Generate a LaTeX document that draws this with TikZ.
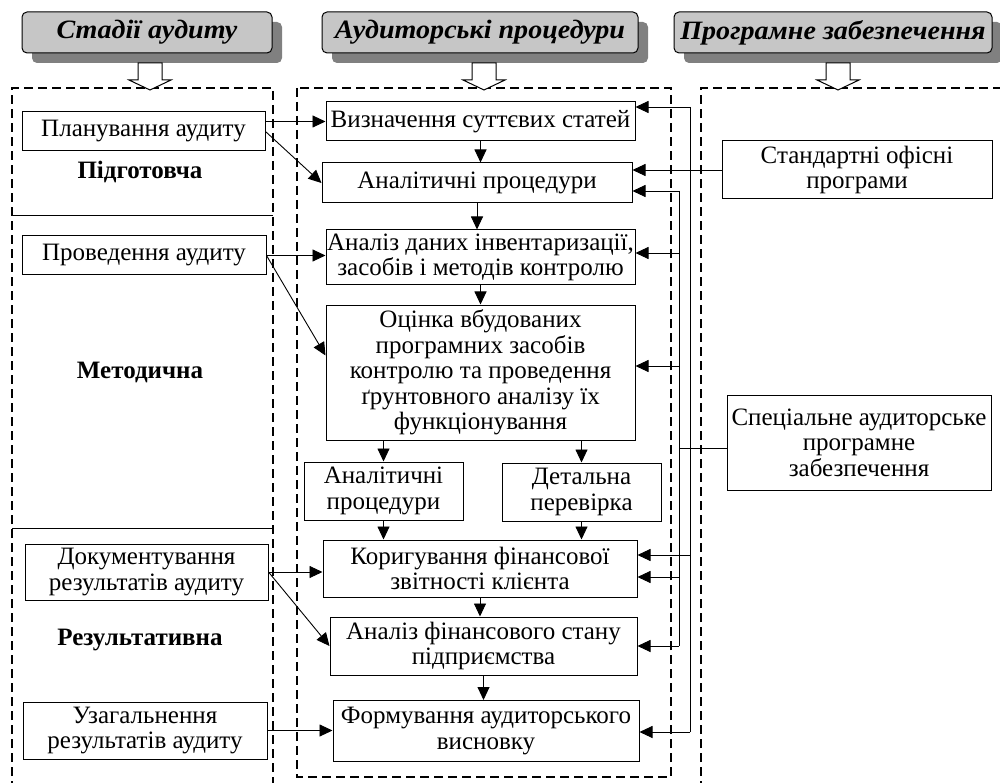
\documentclass[tikz,border=0pt]{standalone}
\usepackage{fontspec}
\setmainfont{Liberation Serif}
\newfontfamily\headfont{Liberation Serif}[FakeStretch=1.06]
\usetikzlibrary{arrows.meta,shadows}

\begin{document}
\begin{tikzpicture}[x=1pt,y=-1pt,
        font=\fontsize{25}{25.5}\selectfont,
        box/.style={draw,line width=1pt,fill=white,align=center,inner sep=0pt},
        head/.style={draw,line width=1pt,rounded corners=5pt,fill=gray!45,minimum height=41pt,inner sep=2pt,
            font=\headfont\fontsize{26.5}{30}\selectfont\bfseries\itshape,
            drop shadow={shadow xshift=10pt,shadow yshift=-10pt,fill=gray,opacity=1}},
        stage/.style={font=\fontsize{25}{25.5}\selectfont\bfseries},
        column/.style={line width=1.5pt,dash pattern=on 9pt off 5pt},
        arr/.style={line width=0.9pt,-{Triangle[length=13pt,width=12pt]}},
        bus/.style={line width=0.9pt},
        blockarrow/.style={draw,line width=1pt,fill=white}]
    \useasboundingbox (0,0) rectangle (1000,783);

    % columns
    \draw[column] (12,790) -- (12,88) -- (273,88) -- (273,790);
    \draw[column] (297,88) rectangle (671,777);
    \draw[column] (701,790) -- (701,88) -- (1010,88);
    \draw[line width=1pt] (12,216) -- (273,216);
    \draw[line width=1pt] (12,528) -- (273,528);

    % headers
    \node[head,minimum width=250pt] (stadii) at (147,32.5) {Стадії аудиту};
    \node[head,minimum width=316pt] (proc) at (480,32.5) {Аудиторські процедури};
    \node[head,minimum width=318pt] (soft) at (833,32.5) {Програмне забезпечення};

    \draw[blockarrow] (138,63) -- (162,63) -- (162,80) -- (171,80) -- (150,90) -- (129,80) -- (138,80) -- cycle;
    \draw[blockarrow] (472,63) -- (496,63) -- (496,80) -- (505,80) -- (484,90) -- (463,80) -- (472,80) -- cycle;
    \draw[blockarrow] (826,63) -- (850,63) -- (850,80) -- (859,80) -- (838,90) -- (817,80) -- (826,80) -- cycle;

    % stages
    \node[box,minimum width=243pt,minimum height=39pt] (plan) at (143.5,131.5) {Планування аудиту};
    \node[stage] (pidg) at (140,172) {Підготовча};
    \node[box,minimum width=244pt,minimum height=39pt] (prov) at (144,255.5) {Проведення аудиту};
    \node[stage] (metod) at (140,372) {Методична};
    \node[box,minimum width=243pt,minimum height=56pt] (dok) at (146.5,572) {Документування\\результатів аудиту};
    \node[stage] (rez) at (140,640) {Результативна};
    \node[box,minimum width=244pt,minimum height=57pt] (uzag) at (145,730.5) {Узагальнення\\результатів аудиту};

    % procedures
    \node[box,minimum width=309pt,minimum height=39pt] (vyzn) at (480.5,121.5) {Визначення суттєвих статей};
    \node[box,minimum width=310pt,minimum height=40pt] (anal) at (477,183) {Аналітичні процедури};
    \node[box,minimum width=309pt,minimum height=55pt] (dani) at (480.5,257.5) {Аналіз даних інвентаризації,\\засобів і методів контролю};
    \node[box,minimum width=309pt,minimum height=135pt] (otsin) at (480.5,372.5) {Оцінка вбудованих\\програмних засобів\\контролю та проведення\\ґрунтовного аналізу їх\\функціонування};
    \node[box,minimum width=159pt,minimum height=58pt] (anal2) at (383.5,491) {Аналітичні\\процедури};
    \node[box,minimum width=159pt,minimum height=58pt] (detal) at (581.5,492) {Детальна\\перевірка};
    \node[box,minimum width=314pt,minimum height=57pt] (koryg) at (480,568.5) {Коригування фінансової\\звітності клієнта};
    \node[box,minimum width=307pt,minimum height=58pt] (finst) at (483.5,646) {Аналіз фінансового стану\\підприємства};
    \node[box,minimum width=306pt,minimum height=61pt] (form) at (486,731) {Формування аудиторського\\висновку};

    % software
    \node[box,minimum width=270pt,minimum height=58pt] (stand) at (857,170) {Стандартні офісні\\програми};
    \node[box,minimum width=264pt,minimum height=95pt] (spec) at (859,442.5) {Спеціальне аудиторське\\програмне\\забезпечення};

    % stages to procedures
    \draw[arr] (plan.east |- vyzn) -- (vyzn.west);
    \draw[arr] (plan.east) -- (anal.west);
    \draw[arr] (prov.east) -- (prov.east -| dani.west);
    \draw[arr] (prov.east) -- ([yshift=17pt]otsin.west);
    \draw[arr] (dok.east) -- (dok.east -| koryg.west);
    \draw[arr] (dok.east) -- (finst.west);
    \draw[arr] (uzag.east) -- (uzag.east -| form.west);

    % procedure chain
    \draw[arr] (vyzn.south) -- (vyzn.south |- anal.north);
    \draw[arr] (anal.south) -- (anal.south |- dani.north);
    \draw[arr] (dani.south) -- (dani.south |- otsin.north);
    \draw[arr] (otsin.south -| anal2.north) -- (anal2.north);
    \draw[arr] (otsin.south -| detal.north) -- (detal.north);
    \draw[arr] (anal2.south) -- (anal2.south |- koryg.north);
    \draw[arr] (detal.south) -- (detal.south |- koryg.north);
    \draw[arr] (koryg.south) -- (koryg.south |- finst.north);
    \draw[arr] (finst.south) -- (finst.south |- form.north);

    % software buses
    \coordinate (outTop) at (690,107);
    \coordinate (outK) at (690,555);
    \coordinate (outBot) at (690,732);
    \coordinate (inTop) at (679,191);
    \coordinate (inD) at (679,253);
    \coordinate (inO) at (679,366);
    \coordinate (inK) at (679,577);
    \coordinate (inBot) at (679,646);

    \draw[bus] (outTop) -- (outBot);
    \draw[bus] (inTop) -- (inBot);
    \draw[arr] (stand.west) -- (stand.west -| anal.east);
    \draw[bus] ([yshift=-6pt]spec.west) -- ([yshift=-6pt]spec.west -| inTop);
    \draw[arr] (outTop) -- (outTop -| vyzn.east);
    \draw[arr] (outK) -- (outK -| koryg.east);
    \draw[arr] (outBot) -- (outBot -| form.east);
    \draw[arr] (inTop) -- (inTop -| anal.east);
    \draw[arr] (inD) -- (inD -| dani.east);
    \draw[arr] (inO) -- (inO -| otsin.east);
    \draw[arr] (inK) -- (inK -| koryg.east);
    \draw[arr] (inBot) -- (inBot -| finst.east);
\end{tikzpicture}
\end{document}
